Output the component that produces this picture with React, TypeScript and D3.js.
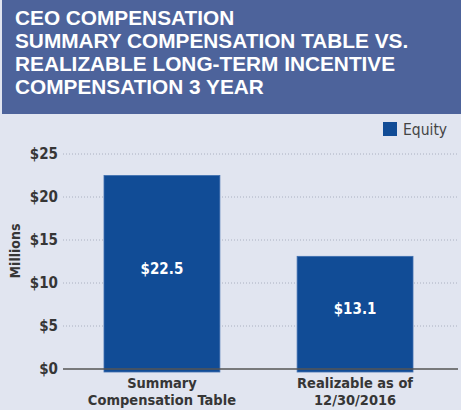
import React from "react";
import * as d3 from "d3";

const titleLines = [
  "CEO COMPENSATION",
  "SUMMARY COMPENSATION TABLE VS.",
  "REALIZABLE LONG-TERM INCENTIVE",
  "COMPENSATION 3 YEAR",
];
const categories = ["Summary Compensation Table", "Realizable as of 12/30/2016"];
const categoryLabelLines = [
  ["Summary", "Compensation Table"],
  ["Realizable as of", "12/30/2016"],
];
const equityValues = [22.5, 13.1];
const valueLabels = ["$22.5", "$13.1"];
const yTicks = [0, 5, 10, 15, 20, 25];
const yTickLabels = ["$0", "$5", "$10", "$15", "$20", "$25"];
const seriesName = "Equity";
const yAxisTitle = "Millions";

const W = 461;
const H = 410;
const condensed = "'Liberation Sans Narrow', 'DejaVu Sans Condensed', 'Roboto Condensed', sans-serif";
const titleFont = "'Liberation Sans', Arial, Helvetica, sans-serif";
const BAR = "#114c96";
const TXT = "#363636";

export default function App() {
  const x = d3.scaleBand<string>().domain(categories).range([104, 413]).paddingInner(0.4).paddingOuter(0);
  const y = d3.scaleLinear().domain([0, 25]).range([369, 154]);

  return (
    <svg width={W} height={H} style={{ position: "absolute", left: 0, top: 0, display: "block" }}>
      <rect x={0} y={0} width={W} height={H} fill="#e1e5f0" />
      <rect x={2} y={0} width={W - 2} height={114} fill="#4d639b" />
      {titleLines.map((t, i) => (
        <text key={i} x={15} y={25 + i * 23} fill="#ffffff" fontFamily={titleFont} fontWeight="bold" fontSize={20.8}>
          {t}
        </text>
      ))}

      {/* legend */}
      <rect x={383} y={122} width={14} height={14} fill={BAR} />
      <text x={403} y={135} fontFamily={condensed} fontStretch="condensed" fontSize={15.5} fill="#444">
        {seriesName}
      </text>

      {/* gridlines */}
      {yTicks.filter((t) => t > 0).map((t) => (
        <line key={t} x1={63} x2={457} y1={y(t)} y2={y(t)} stroke="#aab0c0" strokeWidth={1} strokeDasharray="1,2" />
      ))}

      {/* y tick labels */}
      {yTicks.map((t, i) => (
        <text key={t} x={58} y={y(t)} dy="0.36em" textAnchor="end" fontFamily={condensed} fontStretch="condensed"
          fontWeight="bold" fontSize={15} fill={TXT}>
          {yTickLabels[i]}
        </text>
      ))}

      {/* y axis title */}
      <text transform={`translate(20,251) rotate(-90)`} textAnchor="middle" fontFamily={condensed} fontStretch="condensed"
        fontWeight="bold" fontSize={14} fill={TXT}>
        {yAxisTitle}
      </text>

      {/* bars */}
      {categories.map((c, i) => (
        <g key={c}>
          <rect x={x(c)} y={y(equityValues[i])} width={x.bandwidth()} height={y(0) + 3 - y(equityValues[i])}
            fill={BAR} stroke="#3f6fb0" strokeWidth={0.8} />
          <text x={(x(c) as number) + x.bandwidth() / 2} y={y(equityValues[i] / 2) - 4} dy="0.36em" textAnchor="middle"
            fontFamily={condensed} fontStretch="condensed" fontWeight="bold" fontSize={15} fill="#ffffff">
            {valueLabels[i]}
          </text>
        </g>
      ))}

      {/* baseline */}
      <line x1={63} x2={458} y1={y(0)} y2={y(0)} stroke="#555" strokeWidth={1.5} />

      {/* category labels */}
      {categories.map((c, i) => (
        <text key={c} textAnchor="middle" fontFamily={condensed} fontStretch="condensed" fontWeight="bold" fontSize={14.5}
          fill={TXT}>
          {categoryLabelLines[i].map((l, j) => (
            <tspan key={j} x={(x(c) as number) + x.bandwidth() / 2} y={388 + j * 17}>{l}</tspan>
          ))}
        </text>
      ))}
    </svg>
  );
}
